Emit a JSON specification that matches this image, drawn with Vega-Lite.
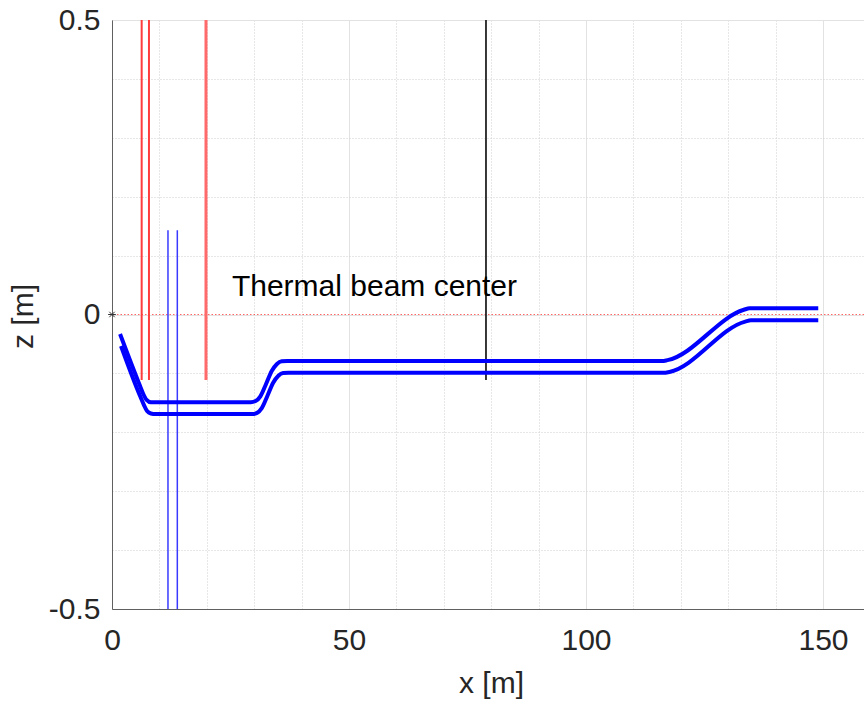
{
  "$schema": "https://vega.github.io/schema/vega-lite/v6.json",
  "width": 752,
  "height": 589,
  "autosize": "none",
  "padding": {"left": 112, "top": 20, "right": 0, "bottom": 95},
  "background": "white",
  "config": {
    "view": {"stroke": "#606060", "strokeWidth": 1},
    "font": "Liberation Sans"
  },
  "datasets": {
    "beam": [
      {"line": "a", "x": 1.7, "z": -0.033},
      {"line": "a", "x": 5.9, "z": -0.121},
      {"line": "a", "x": 6.6, "z": -0.135},
      {"line": "a", "x": 7.3, "z": -0.145},
      {"line": "a", "x": 8.2, "z": -0.149},
      {"line": "a", "x": 9.2, "z": -0.149},
      {"line": "a", "x": 29.3, "z": -0.149},
      {"line": "a", "x": 30.3, "z": -0.147},
      {"line": "a", "x": 31.3, "z": -0.139},
      {"line": "a", "x": 32.5, "z": -0.118},
      {"line": "a", "x": 33.7, "z": -0.096},
      {"line": "a", "x": 34.8, "z": -0.084},
      {"line": "a", "x": 35.8, "z": -0.0795},
      {"line": "a", "x": 37.0, "z": -0.079},
      {"line": "a", "x": 116.0, "z": -0.079},
      {"line": "a", "x": 117.2, "z": -0.0775},
      {"line": "a", "x": 133.3, "z": 0.008},
      {"line": "a", "x": 134.5, "z": 0.0105},
      {"line": "a", "x": 135.5, "z": 0.0105},
      {"line": "a", "x": 149.0, "z": 0.0105},
      {"line": "b", "x": 1.9, "z": -0.0535},
      {"line": "b", "x": 5.9, "z": -0.138},
      {"line": "b", "x": 6.7, "z": -0.153},
      {"line": "b", "x": 7.4, "z": -0.164},
      {"line": "b", "x": 8.2, "z": -0.168},
      {"line": "b", "x": 9.2, "z": -0.169},
      {"line": "b", "x": 29.6, "z": -0.169},
      {"line": "b", "x": 30.6, "z": -0.167},
      {"line": "b", "x": 31.6, "z": -0.159},
      {"line": "b", "x": 32.8, "z": -0.138},
      {"line": "b", "x": 34.0, "z": -0.116},
      {"line": "b", "x": 35.1, "z": -0.104},
      {"line": "b", "x": 36.1, "z": -0.0995},
      {"line": "b", "x": 37.3, "z": -0.099},
      {"line": "b", "x": 116.4, "z": -0.099},
      {"line": "b", "x": 117.6, "z": -0.0975},
      {"line": "b", "x": 133.6, "z": -0.012},
      {"line": "b", "x": 134.8, "z": -0.0099},
      {"line": "b", "x": 135.8, "z": -0.0099},
      {"line": "b", "x": 149.0, "z": -0.0099}
    ],
    "redThin": [
      {"x": 6.26, "z1": -0.111, "z2": 0.5},
      {"x": 7.8, "z1": -0.111, "z2": 0.5}
    ],
    "redThick": [
      {"x": 19.83, "z1": -0.111, "z2": 0.5}
    ],
    "blueThin": [
      {"x": 11.81, "z1": -0.5, "z2": 0.143},
      {"x": 13.78, "z1": -0.5, "z2": 0.143}
    ],
    "black": [
      {"x": 78.9, "z1": -0.111, "z2": 0.5}
    ],
    "center": [{"z": 0}],
    "origin": [{"x": 0, "z": 0}],
    "label": [{"x": 25.3, "z": 0.031, "text": "Thermal beam center"}]
  },
  "layer": [
    {
      "data": {"name": "center"},
      "mark": {"type": "rule", "color": "#ff0000", "strokeWidth": 1, "strokeDash": [1.5, 2], "opacity": 0.6},
      "encoding": {
        "y": {
          "field": "z",
          "type": "quantitative",
          "scale": {"domain": [-0.5, 0.5], "nice": false, "zero": false},
          "axis": {
            "values": [-0.5, -0.45, -0.4, -0.35, -0.3, -0.25, -0.2, -0.15, -0.1, -0.05, 0, 0.05, 0.1, 0.15, 0.2, 0.25, 0.3, 0.35, 0.4, 0.45, 0.5],
            "labelExpr": "abs(datum.value) < 1e-6 ? '0' : abs(datum.value - 0.5) < 1e-6 ? '0.5' : abs(datum.value + 0.5) < 1e-6 ? '-0.5' : ''",
            "labelFontSize": 30,
            "labelColor": "#262626",
            "labelFont": "Liberation Sans",
            "labelPadding": 12,
            "labelOverlap": false,
            "labelBound": false,
            "labelFlush": false,
            "ticks": false,
            "domainColor": "#606060",
            "grid": true,
            "gridColor": {"condition": {"test": "abs(datum.value) < 1e-6 || abs(abs(datum.value) - 0.5) < 1e-6", "value": "#e2e2e2"}, "value": "#cfcfcf"},
            "gridDash": {"condition": {"test": "abs(datum.value) < 1e-6 || abs(abs(datum.value) - 0.5) < 1e-6", "value": []}, "value": [1, 2]},
            "title": "z [m]",
            "titleFontSize": 30,
            "titleFontWeight": "normal",
            "titleFont": "Liberation Sans",
            "titleColor": "#262626",
            "titleX": -80,
            "titleY": 296,
            "titleAlign": "center",
            "titleBaseline": "alphabetic",
            "titleAngle": -90
          }
        }
      }
    },
    {
      "data": {"name": "redThin"},
      "mark": {"type": "rule", "color": "#ff3c3c", "strokeWidth": 2},
      "encoding": {
        "x": {
          "field": "x",
          "type": "quantitative",
          "scale": {"domain": [0, 158.65], "nice": false, "zero": false},
          "axis": {
            "values": [0, 5, 10, 15, 20, 25, 30, 35, 40, 45, 50, 55, 60, 65, 70, 75, 80, 85, 90, 95, 100, 105, 110, 115, 120, 125, 130, 135, 140, 145, 150, 155],
            "labelExpr": "datum.value % 50 === 0 ? datum.label : ''",
            "labelFontSize": 30,
            "labelColor": "#262626",
            "labelFont": "Liberation Sans",
            "labelPadding": 16,
            "labelOverlap": false,
            "labelBound": false,
            "labelFlush": false,
            "ticks": false,
            "domainColor": "#606060",
            "grid": true,
            "gridColor": {"condition": {"test": "datum.value % 50 === 0", "value": "#e2e2e2"}, "value": "#cfcfcf"},
            "gridDash": {"condition": {"test": "datum.value % 50 === 0", "value": []}, "value": [1, 2]},
            "title": "x [m]",
            "titleFontSize": 30,
            "titleFontWeight": "normal",
            "titleFont": "Liberation Sans",
            "titleColor": "#262626",
            "titleX": 379,
            "titleY": 83,
            "titleAlign": "center",
            "titleBaseline": "alphabetic"
          }
        },
        "y": {"field": "z1", "type": "quantitative"},
        "y2": {"field": "z2"}
      }
    },
    {
      "data": {"name": "redThick"},
      "mark": {"type": "rule", "color": "#ff6a6a", "strokeWidth": 3},
      "encoding": {
        "x": {"field": "x", "type": "quantitative"},
        "y": {"field": "z1", "type": "quantitative"},
        "y2": {"field": "z2"}
      }
    },
    {
      "data": {"name": "blueThin"},
      "mark": {"type": "rule", "color": "#3a3aff", "strokeWidth": 1.5},
      "encoding": {
        "x": {"field": "x", "type": "quantitative"},
        "y": {"field": "z1", "type": "quantitative"},
        "y2": {"field": "z2"}
      }
    },
    {
      "data": {"name": "black"},
      "mark": {"type": "rule", "color": "#222222", "strokeWidth": 1.8},
      "encoding": {
        "x": {"field": "x", "type": "quantitative"},
        "y": {"field": "z1", "type": "quantitative"},
        "y2": {"field": "z2"}
      }
    },
    {
      "data": {"name": "beam"},
      "mark": {"type": "line", "color": "#0000ff", "strokeWidth": 4, "interpolate": "monotone"},
      "encoding": {
        "x": {"field": "x", "type": "quantitative"},
        "y": {"field": "z", "type": "quantitative"},
        "detail": {"field": "line", "type": "nominal"}
      }
    },
    {
      "data": {"name": "origin"},
      "mark": {"type": "point", "shape": "M-1,0L1,0M-0.7,-0.7L0.7,0.7M-0.7,0.7L0.7,-0.7", "filled": false, "stroke": "#333333", "strokeWidth": 1, "size": 60, "opacity": 1},
      "encoding": {
        "x": {"field": "x", "type": "quantitative"},
        "y": {"field": "z", "type": "quantitative"}
      }
    },
    {
      "data": {"name": "label"},
      "mark": {"type": "text", "align": "left", "baseline": "alphabetic", "fontSize": 30, "font": "Liberation Sans", "color": "#000000"},
      "encoding": {
        "x": {"field": "x", "type": "quantitative"},
        "y": {"field": "z", "type": "quantitative"},
        "text": {"field": "text"}
      }
    }
  ]
}
